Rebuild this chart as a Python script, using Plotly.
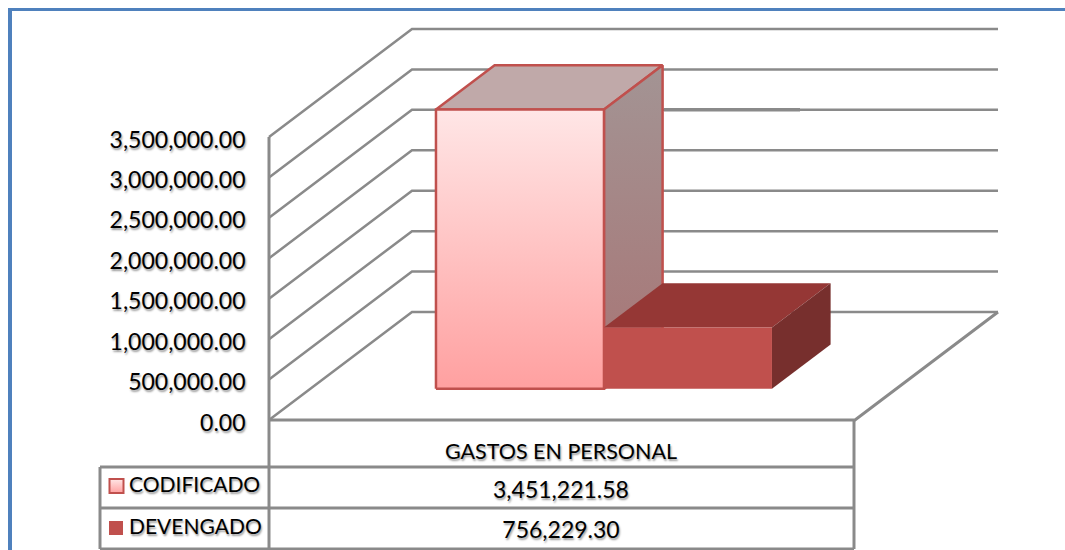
import plotly.graph_objects as go

# ---- data ----
category = "GASTOS EN PERSONAL"
series_names = ["CODIFICADO", "DEVENGADO"]
series_values = [3451221.58, 756229.30]
y_ticks = [0, 500000, 1000000, 1500000, 2000000, 2500000, 3000000, 3500000]

# ---- layout constants ----
W, H = 1065, 550
Y0_PX, PX_PER_UNIT = 420, 283 / 3500000
WALL_X, FLOOR_W = 269, 586
DEPTH_DX, DEPTH_DY = 143, 108
BAR_D0, BAR_D1 = 0.29, 0.70
BAR_LEFT, BAR_W = 394.5, 168
LABEL_SHIFT_PX = 2.5
GREY = "#8A8A8A"
FONT = "Lato, Carlito, Calibri, sans-serif"
SHADOW = "1px 2px 2px rgba(0,0,0,0.4)"


def v_of_px(py):
    return (Y0_PX - py) / PX_PER_UNIT


def proj(x, v, d):
    """Oblique projection: x units and value at depth d -> axis coordinates."""
    return x + DEPTH_DX * d, v + DEPTH_DY * d / PX_PER_UNIT


def poly(points, **kw):
    xs, ys = zip(*points)
    return go.Scatter(x=xs, y=ys, mode="lines", hoverinfo="skip", showlegend=False, **kw)


def line(points, color=GREY, width=2.5):
    return poly(points, line=dict(color=color, width=width))


fig = go.Figure()

# wall grid lines
right = WALL_X + FLOOR_W
for t in y_ticks:
    fig.add_trace(line([proj(WALL_X, t, 0), proj(WALL_X, t, 1), proj(right, t, 1)]))
# left wall edge and floor
fig.add_trace(line([proj(WALL_X, 0, 0), proj(WALL_X, y_ticks[-1], 0)], width=3))
fig.add_trace(line([proj(WALL_X, 0, 0), proj(right, 0, 0), proj(right, 0, 1)], width=3))
# thicker stub behind the first bar
fig.add_trace(line([proj(521, y_ticks[5], 1), proj(657, y_ticks[5], 1)], width=3.5))

# bars
styles = [
    dict(front=[[0, "#FFA0A0"], [1, "#FFE6E6"]],
         side=[[0, "#A87474"], [1, "#A39494"]], top="#C0A9A9", edge="#C0504D", ew=2.5),
    dict(front=[[0, "#C0504D"], [1, "#C0504D"]],
         side=[[0, "#772F2D"], [1, "#772F2D"]], top="#953735", edge=None, ew=0),
]
for i, val in enumerate(series_values):
    st = styles[i]
    x0, x1 = BAR_LEFT + i * BAR_W, BAR_LEFT + (i + 1) * BAR_W
    ln = dict(color=st["edge"], width=st["ew"]) if st["edge"] else dict(width=0)
    fig.add_trace(poly([proj(x0, val, BAR_D0), proj(x0, val, BAR_D1), proj(x1, val, BAR_D1),
                        proj(x1, val, BAR_D0), proj(x0, val, BAR_D0)],
                       fill="toself", fillcolor=st["top"], line=ln))
    fig.add_trace(poly([proj(x1, 0, BAR_D0), proj(x1, val, BAR_D0), proj(x1, val, BAR_D1),
                        proj(x1, 0, BAR_D1), proj(x1, 0, BAR_D0)],
                       fill="toself", fillgradient=dict(type="vertical", colorscale=st["side"]),
                       line=ln))
    fig.add_trace(poly([proj(x0, 0, BAR_D0), proj(x0, val, BAR_D0), proj(x1, val, BAR_D0),
                        proj(x1, 0, BAR_D0), proj(x0, 0, BAR_D0)],
                       fill="toself", fillgradient=dict(type="vertical", colorscale=st["front"]),
                       line=ln))

# data table
rows_px = [467, 508, 549]
for py in rows_px:
    fig.add_trace(line([(100, v_of_px(py)), (854, v_of_px(py))], width=3))
fig.add_trace(line([(100, v_of_px(467)), (100, v_of_px(549))], width=3))
fig.add_trace(line([(WALL_X, 0), (WALL_X, v_of_px(549))], width=3))
fig.add_trace(line([(854, 0), (854, v_of_px(549))], width=3))


def text(x, py, s, pos="middle center", size=21.5):
    fig.add_trace(go.Scatter(x=[x], y=[v_of_px(py)], mode="text", text=[s], textposition=pos,
                             hoverinfo="skip", showlegend=False,
                             textfont=dict(family=FONT, size=size, color="#000000", shadow=SHADOW),
                             cliponaxis=False))


text(561, 454, category)
text(129, 487, series_names[0], "middle right", 21)
text(129, 529, series_names[1], "middle right", 21)
text(561, 492, f"{series_values[0]:,.2f}", size=23)
text(561, 532, f"{series_values[1]:,.2f}", size=23)

# legend keys
fig.add_trace(go.Scatter(x=[116.5], y=[v_of_px(486)], mode="markers", hoverinfo="skip", showlegend=False,
                         marker=dict(symbol="square", size=14, color="#FFE6E6",
                                     gradient=dict(type="vertical", color="#FFA0A0"),
                                     line=dict(color="#C0504D", width=2))))
fig.add_trace(go.Scatter(x=[116], y=[v_of_px(528)], mode="markers", hoverinfo="skip", showlegend=False,
                         marker=dict(symbol="square", size=14, color="#C0504D")))

# value axis labels live on an overlaid axis, nudged to sit where the reference has them
fig.add_trace(go.Scatter(x=[WALL_X] * len(y_ticks), y=y_ticks, yaxis="y2", mode="none",
                         hoverinfo="skip", showlegend=False))

fig.update_layout(
    width=W, height=H, margin=dict(l=0, r=0, t=0, b=0),
    paper_bgcolor="white", plot_bgcolor="white", showlegend=False,
    xaxis=dict(range=[0, W], domain=[0, 1], visible=False, fixedrange=True),
    yaxis=dict(range=[v_of_px(H), v_of_px(0)], domain=[0, 1], visible=False, fixedrange=True),
    yaxis2=dict(range=[v_of_px(H - LABEL_SHIFT_PX), v_of_px(-LABEL_SHIFT_PX)], domain=[0, 1],
                overlaying="y", anchor="free", side="left",
                position=245.5 / W, tickvals=y_ticks, tickformat=",.2f", ticks="",
                showgrid=False, zeroline=False, showline=False, fixedrange=True,
                tickfont=dict(family=FONT, size=23, color="#000000", shadow=SHADOW)),
    shapes=[
        dict(type="rect", xref="paper", yref="paper", x0=8 / W, x1=12 / W, y0=0, y1=1 - 8 / H,
             fillcolor="#4F81BD", line=dict(width=0)),
        dict(type="rect", xref="paper", yref="paper", x0=8 / W, x1=1, y0=1 - 11 / H, y1=1 - 8 / H,
             fillcolor="#4F81BD", line=dict(width=0)),
    ],
)
fig.write_html("out.html", config=dict(displayModeBar=False),
               post_script="document.body.style.margin='0';document.body.style.overflow='hidden';")
